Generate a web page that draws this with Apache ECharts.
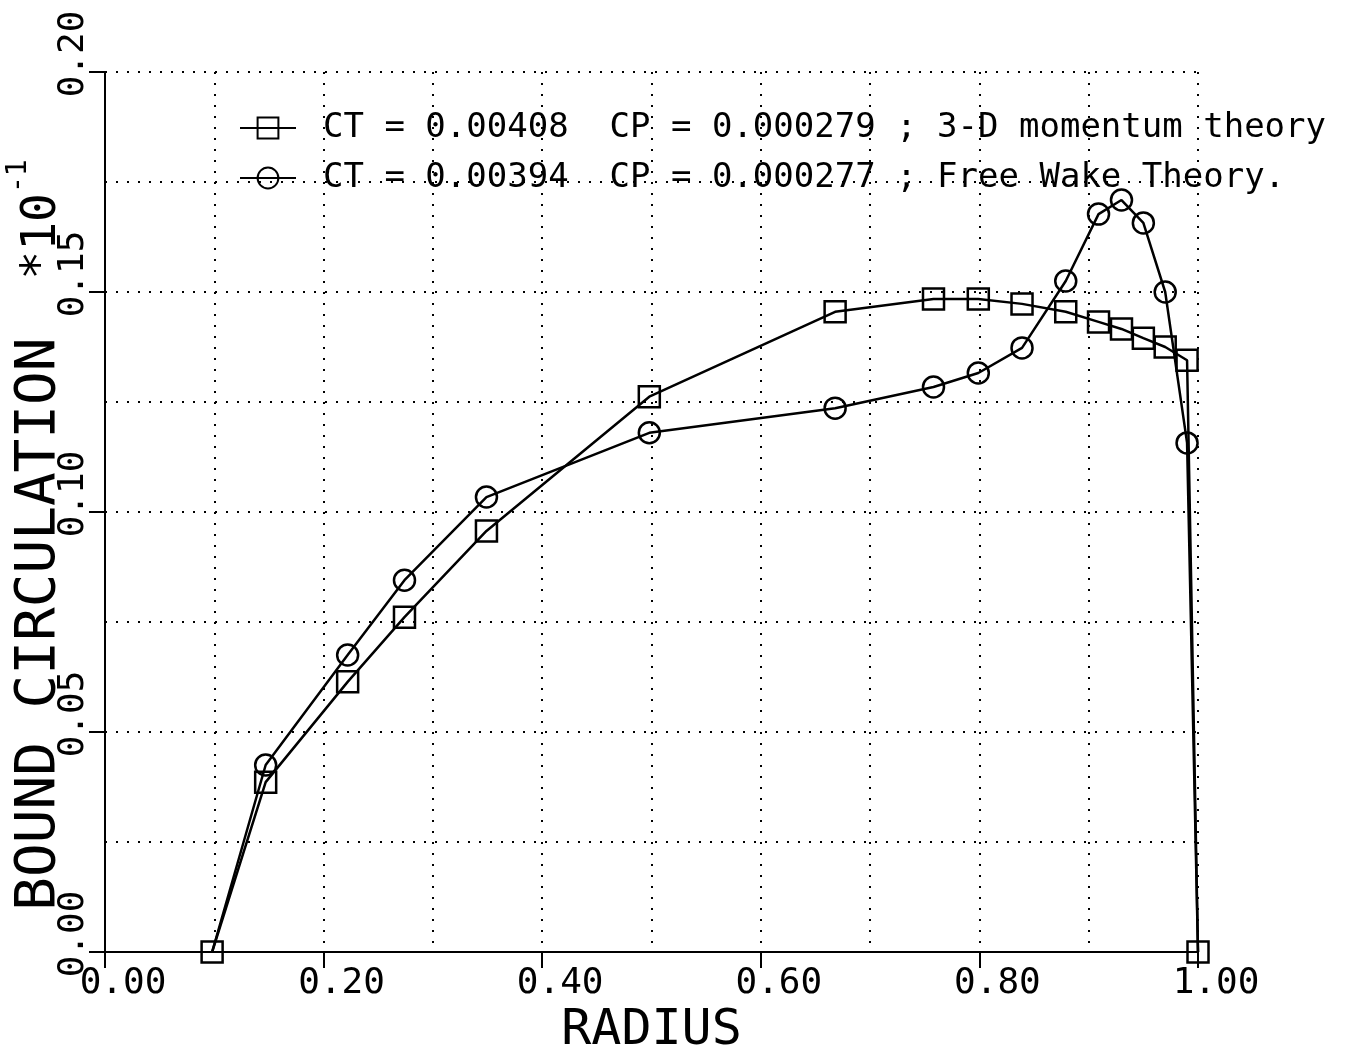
<!DOCTYPE html>
<html>
<head>
<meta charset="utf-8">
<script src="https://cdn.jsdelivr.net/npm/echarts@6/dist/echarts.min.js"></script>
<style>
html,body{margin:0;padding:0;background:#fff;}
#chart{width:1354px;height:1049px;}
</style>
</head>
<body>
<div id="chart"></div>
<script>
const radius = [0.098, 0.147, 0.222, 0.274, 0.349, 0.498, 0.668, 0.758, 0.799, 0.839, 0.879, 0.909, 0.930, 0.950, 0.970, 0.990, 1.000];
const momentumCirc = [0.0, 0.0386, 0.0614, 0.0761, 0.0957, 0.1262, 0.1455, 0.1484, 0.1484, 0.1473, 0.1455, 0.1432, 0.1416, 0.1395, 0.1375, 0.1345, 0.0];
const freeWakeCirc = [0.0, 0.0425, 0.0675, 0.0845, 0.1034, 0.1180, 0.1236, 0.1284, 0.1316, 0.1373, 0.1525, 0.1677, 0.1709, 0.1657, 0.1500, 0.1157, 0.0];
const seriesNames = [
  'CT = 0.00408  CP = 0.000279 ; 3-D momentum theory',
  'CT = 0.00394  CP = 0.000277 ; Free Wake Theory.'
];
const xTitle = 'RADIUS';
const yTitle = 'BOUND CIRCULATION';
const yMultiplier = '*10';
const yExponent = '-1';

const FONT = 'DejaVu Sans Mono';
const chart = echarts.init(document.getElementById('chart'), null, {renderer: 'canvas'});

const dotted = {color: '#000', width: 2, type: [2, 9]};

function pairs(xs, ys, hideEnds) {
  return xs.map((x, i) => {
    const item = {value: [x, ys[i]]};
    if (hideEnds && (i === 0 || i === xs.length - 1)) item.symbol = 'none';
    return item;
  });
}

const option = {
  backgroundColor: '#fff',
  animation: false,
  grid: {left: 105, top: 72, right: 156, bottom: 97, containLabel: false, outerBoundsMode: 'none'},
  legend: {
    orient: 'vertical',
    left: 234,
    top: 106,
    itemWidth: 56,
    itemHeight: 26,
    itemGap: 16,
    textStyle: {fontFamily: FONT, fontSize: 34, color: '#000', lineHeight: 34, padding: [0, 0, 0, 22]},
    data: seriesNames
  },
  xAxis: {
    type: 'value',
    min: 0, max: 1, interval: 0.2,
    name: xTitle,
    nameLocation: 'middle',
    nameGap: 54,
    nameMoveOverlap: false,
    nameTextStyle: {fontFamily: FONT, fontSize: 50, color: '#000'},
    axisLine: {show: true, onZero: false, lineStyle: {color: '#000', width: 2}},
    axisTick: {show: true, length: 16, lineStyle: {color: '#000', width: 2}},
    minorTick: {show: false, splitNumber: 2},
    axisLabel: {
      fontFamily: FONT, fontSize: 36, color: '#000', margin: 14,
      align: 'center', padding: [0, 0, 0, 36],
      formatter: v => v.toFixed(2)
    },
    splitLine: {show: true, lineStyle: dotted},
    minorSplitLine: {show: true, lineStyle: dotted}
  },
  yAxis: {
    type: 'value',
    min: 0, max: 0.2, interval: 0.05,
    name: '{a|' + yTitle + '}{b|  ' + yMultiplier + '}{c|' + yExponent + '}',
    nameLocation: 'middle',
    nameRotate: 90,
    nameGap: 38,
    nameMoveOverlap: false,
    nameTextStyle: {
      color: '#000',
      padding: [0, 46, 0, 0],
      rich: {
        a: {fontFamily: FONT, fontSize: 56, color: '#000', verticalAlign: 'bottom', lineHeight: 62},
        b: {fontFamily: FONT, fontSize: 48, color: '#000', verticalAlign: 'bottom', lineHeight: 62},
        c: {fontFamily: FONT, fontSize: 28, color: '#000', verticalAlign: 'top', lineHeight: 62}
      }
    },
    axisLine: {show: true, onZero: false, lineStyle: {color: '#000', width: 2}},
    axisTick: {show: true, length: 16, lineStyle: {color: '#000', width: 2}},
    minorTick: {show: false, splitNumber: 2},
    axisLabel: {
      fontFamily: FONT, fontSize: 36, color: '#000', margin: 13,
      rotate: 90, align: 'center', verticalAlign: 'bottom', padding: [0, 0, 0, 36],
      formatter: v => v.toFixed(2)
    },
    splitLine: {show: true, lineStyle: dotted},
    minorSplitLine: {show: true, lineStyle: dotted}
  },
  series: [
    {
      name: seriesNames[0],
      type: 'line',
      data: pairs(radius, momentumCirc, false),
      symbol: 'rect',
      symbolSize: 21,
      lineStyle: {color: '#000', width: 2.5},
      itemStyle: {color: 'rgba(0,0,0,0)', borderColor: '#000', borderWidth: 2.5},
      z: 3
    },
    {
      name: seriesNames[1],
      type: 'line',
      data: pairs(radius, freeWakeCirc, true),
      symbol: 'circle',
      symbolSize: 21,
      lineStyle: {color: '#000', width: 2.5},
      itemStyle: {color: 'rgba(0,0,0,0)', borderColor: '#000', borderWidth: 2.5},
      z: 3
    }
  ]
};
chart.setOption(option);
</script>
</body>
</html>
